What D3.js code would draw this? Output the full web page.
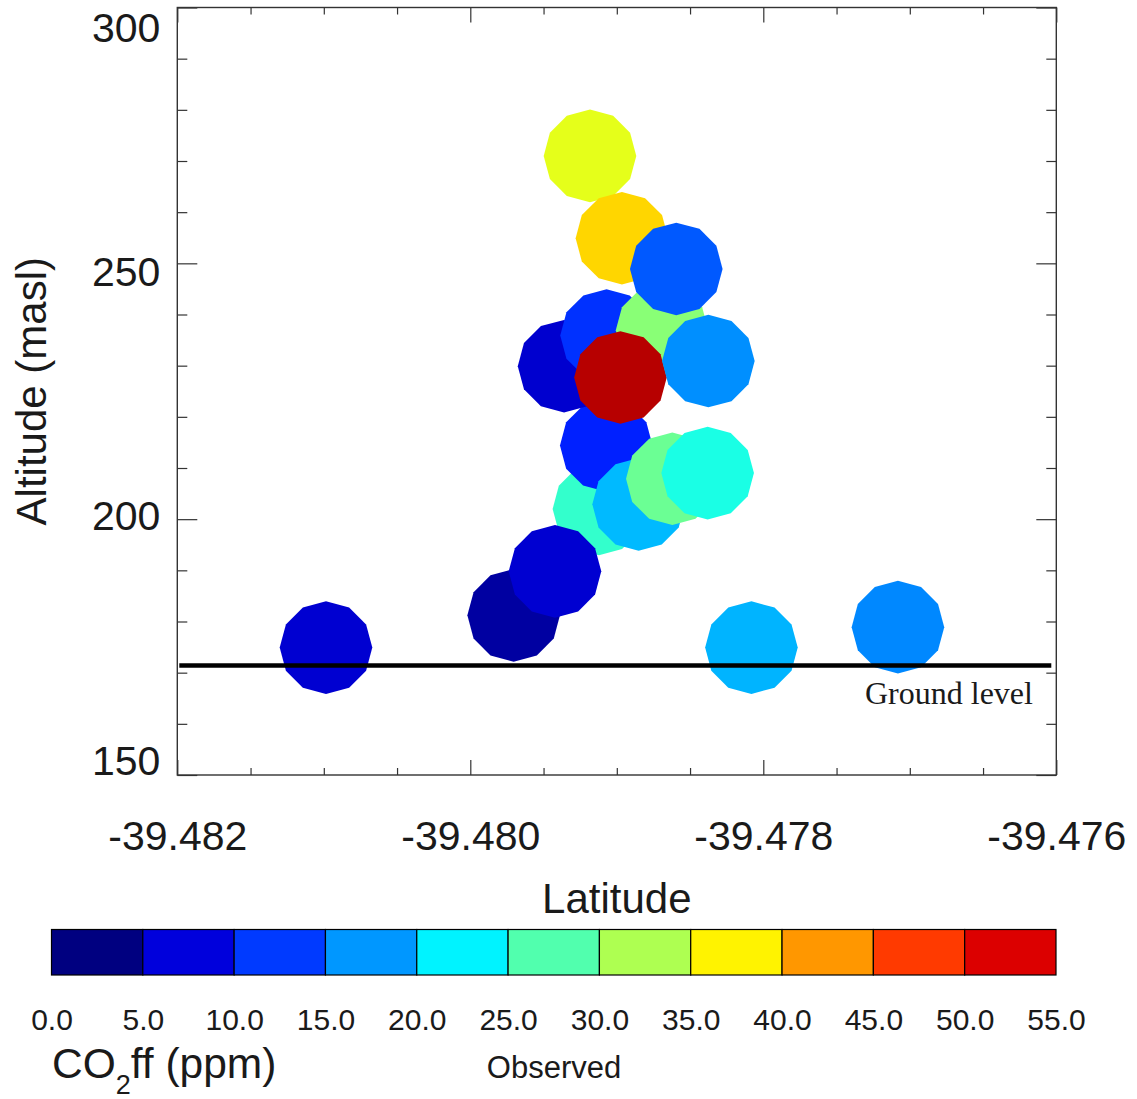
<!DOCTYPE html>
<html>
<head>
<meta charset="utf-8">
<script src="https://cdn.jsdelivr.net/npm/d3@7"></script>
<style>
  body { margin: 0; background: #fff; }
  svg { display: block; }
  text { font-family: "Liberation Sans", Arial, Helvetica, sans-serif; fill: #1a1a1a; }
</style>
</head>
<body>
<svg id="chart"></svg>
<script>
// data, in drawing order
let lat = [-39.480985, -39.478081, -39.477081, -39.479704, -39.479122, -39.479422,
           -39.479072, -39.478851, -39.478621, -39.478380, -39.479360, -39.479070,
           -39.478691, -39.478975, -39.478375, -39.479183, -39.478965, -39.478594]
let alt = [174.9, 174.9, 178.9, 181.2, 202.0, 189.8,
           214.4, 202.9, 207.9, 209.0, 229.9, 235.9,
           236.9, 227.7, 230.9, 271.0, 254.9, 248.9]
let co2ff = [4.4, 16.6, 14.2, 1.8, 23.4, 4.4,
             8.6, 16.9, 26.4, 22.0, 4.3, 9.5,
             28.0, 52.0, 14.6, 33.0, 36.6, 11.7]

let groundLevel = 171.4
let xMajor = [-39.482, -39.480, -39.478, -39.476]
let yMajor = [150, 200, 250, 300]
let cbEdges = [0, 5, 10, 15, 20, 25, 30, 35, 40, 45, 50, 55]

let width = 1137
let height = 1099

let svg = d3.select('#chart').attr('width', width).attr('height', height)

// jet colour table, t in 0..1
let jet = (t) => {
    let c = (v) => Math.round(255 * Math.max(0, Math.min(1, v)))
    return d3.rgb(c(1.5 - Math.abs(4 * t - 3)), c(1.5 - Math.abs(4 * t - 2)), c(1.5 - Math.abs(4 * t - 1)))
}
let colour = (v) => jet(v / 55)

let xScale = d3.scaleLinear().domain([-39.482, -39.476]).range([177.3, 1056.3])
let yScale = d3.scaleLinear().domain([150, 300]).range([775, 7.5])
// the labels on the y axis are spread a little tighter than the ticks
let yLabel = d3.scaleLinear().domain([150, 300]).range([761, 28])

let xMinor = d3.range(-39.482, -39.4759, 0.0005).filter(d => !xMajor.some(m => Math.abs(m - d) < 1e-6))
let yMinor = d3.range(150, 301, 10).filter(d => d % 50 != 0)

let axisStyle = (g) => {
    g.select('.domain').remove()
    g.selectAll('line').attr('stroke', '#333').attr('stroke-width', 1.2)
}

// bottom axis (plain hyphen for the minus sign, like the original)
svg.append('g').attr('transform', `translate(0, ${yScale.range()[0]})`)
    .call(d3.axisBottom(xScale).tickValues(xMinor).tickSize(-7).tickFormat(''))
    .call(axisStyle)
svg.append('g').attr('transform', `translate(0, ${yScale.range()[0]})`)
    .call(d3.axisBottom(xScale).tickValues(xMajor).tickSize(-15).tickPadding(46).tickFormat(d => d.toFixed(3)))
    .call(axisStyle)
    .call(g => g.selectAll('text').attr('font-size', 41).attr('font-family', null).attr('fill', '#1a1a1a'))

// top axis
svg.append('g').attr('transform', `translate(0, ${yScale.range()[1]})`)
    .call(d3.axisTop(xScale).tickValues(xMinor).tickSize(-7).tickFormat(''))
    .call(axisStyle)
svg.append('g').attr('transform', `translate(0, ${yScale.range()[1]})`)
    .call(d3.axisTop(xScale).tickValues(xMajor).tickSize(-15).tickFormat(''))
    .call(axisStyle)

// left axis
svg.append('g').attr('transform', `translate(${xScale.range()[0]}, 0)`)
    .call(d3.axisLeft(yScale).tickValues(yMinor).tickSize(-10).tickFormat(''))
    .call(axisStyle)
svg.append('g').attr('transform', `translate(${xScale.range()[0]}, 0)`)
    .call(d3.axisLeft(yScale).tickValues(yMajor).tickSize(-20).tickPadding(17).tickFormat(d3.format('d')))
    .call(axisStyle)
    .call(g => g.selectAll('text').attr('font-size', 41).attr('font-family', null).attr('fill', '#1a1a1a')
        .attr('y', d => yLabel(d) - yScale(d)))

// right axis
svg.append('g').attr('transform', `translate(${xScale.range()[1]}, 0)`)
    .call(d3.axisRight(yScale).tickValues(yMinor).tickSize(-10).tickFormat(''))
    .call(axisStyle)
svg.append('g').attr('transform', `translate(${xScale.range()[1]}, 0)`)
    .call(d3.axisRight(yScale).tickValues(yMajor).tickSize(-20).tickFormat(''))
    .call(axisStyle)

// frame
svg.append('rect')
    .attr('x', xScale.range()[0]).attr('y', yScale.range()[1])
    .attr('width', xScale.range()[1] - xScale.range()[0])
    .attr('height', yScale.range()[0] - yScale.range()[1])
    .attr('fill', 'none').attr('stroke', '#333').attr('stroke-width', 1.4)

// 12 sided markers
let r = 46.3
let polygon = d3.line()(d3.range(12).map(i => [r * Math.cos(i * Math.PI / 6), r * Math.sin(i * Math.PI / 6)])) + 'Z'

svg.append('g').selectAll('path')
    .data(d3.range(lat.length))
    .enter()
    .append('path')
    .attr('d', polygon)
    .attr('transform', i => `translate(${xScale(lat[i])}, ${yScale(alt[i])})`)
    .attr('fill', i => colour(co2ff[i]))

// ground level
svg.append('line')
    .attr('x1', xScale.range()[0] + 2).attr('x2', xScale.range()[1] - 5)
    .attr('y1', yScale(groundLevel)).attr('y2', yScale(groundLevel))
    .attr('stroke', '#000').attr('stroke-width', 4.5)
svg.append('text')
    .attr('x', 865).attr('y', yScale(groundLevel) + 38)
    .style('font-family', '"Liberation Serif", "Times New Roman", serif')
    .attr('font-size', 32).attr('fill', '#000')
    .text('Ground level')

// axis titles
svg.append('text')
    .attr('x', (xScale.range()[0] + xScale.range()[1]) / 2).attr('y', 913)
    .attr('text-anchor', 'middle').attr('font-size', 42)
    .text('Latitude')
svg.append('text')
    .attr('transform', `translate(46, ${(yScale.range()[0] + yScale.range()[1]) / 2}) rotate(-90)`)
    .attr('text-anchor', 'middle').attr('font-size', 42)
    .text('Altitude (masl)')

// colour bar
let cbScale = d3.scaleLinear().domain([0, 55]).range([51.5, 1056])
let cbTop = 929.5
let cbHeight = 45.5
let bins = cbEdges.slice(0, -1)

svg.append('g').selectAll('rect')
    .data(bins)
    .enter()
    .append('rect')
    .attr('x', d => cbScale(d))
    .attr('y', cbTop)
    .attr('width', d => cbScale(d + 5) - cbScale(d))
    .attr('height', cbHeight)
    .attr('fill', d => jet(d / 55))
    .attr('stroke', '#000')
    .attr('stroke-width', 1.2)

svg.append('g').attr('transform', `translate(0, ${cbTop + cbHeight})`)
    .call(d3.axisBottom(cbScale).tickValues(cbEdges).tickSize(0).tickPadding(34).tickFormat(d3.format('.1f')))
    .call(g => g.select('.domain').remove())
    .call(g => g.selectAll('text').attr('font-size', 30).attr('font-family', null).attr('fill', '#1a1a1a'))

let cbTitle = svg.append('text').attr('x', 52).attr('y', 1078).attr('font-size', 42.5)
cbTitle.append('tspan').text('CO')
cbTitle.append('tspan').attr('font-size', 27).attr('dy', 16).text('2')
cbTitle.append('tspan').attr('dy', -16).text('ff (ppm)')

svg.append('text')
    .attr('x', 554).attr('y', 1078)
    .attr('text-anchor', 'middle').attr('font-size', 31)
    .text('Observed')
</script>
</body>
</html>
